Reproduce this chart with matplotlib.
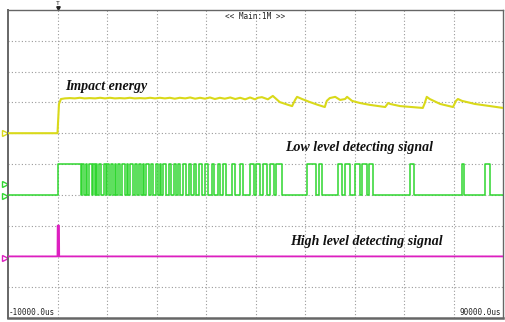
import numpy as np
import matplotlib
matplotlib.use("Agg")
from matplotlib import pyplot as plt

# time axis of the scope (us) and vertical scale in divisions
t_start, t_end = -10000, 90000

# impact energy trace (yellow): time in us, level in divisions
energy_t = [-10000, 0, 300, 700, 1500, 2500, 3500, 4500, 5500, 6500, 7600, 8600,
            9600, 10600, 11600, 12600, 13600, 14600, 15600, 16700, 17700, 18700,
            19700, 20700, 21700, 22700, 23700, 24700, 25800, 26800, 27800, 28800,
            29800, 30800, 31800, 32800, 33800, 34900, 35900, 36900, 37900, 38900,
            39900, 40500, 41300, 42500, 43500, 44900, 46600, 47400, 48000, 48400,
            49400, 51000, 52600, 54000, 54400, 55000, 56100, 57100, 58100, 58500,
            59500, 61100, 63100, 66200, 66800, 67200, 69200, 73800, 74200, 74600,
            75200, 77300, 79900, 80500, 80900, 81700, 84300, 87400, 90000]
energy_v = [6.0, 6.0, 6.95, 7.11, 7.13, 7.14, 7.13, 7.15, 7.13, 7.14, 7.13, 7.15,
            7.13, 7.15, 7.13, 7.14, 7.13, 7.15, 7.13, 7.14, 7.13, 7.15, 7.13, 7.15,
            7.13, 7.15, 7.12, 7.15, 7.13, 7.16, 7.12, 7.15, 7.12, 7.16, 7.11, 7.15,
            7.12, 7.16, 7.11, 7.15, 7.10, 7.16, 7.10, 7.15, 7.17, 7.10, 7.21, 7.01,
            6.92, 6.88, 7.08, 7.18, 7.11, 7.01, 6.92, 6.85, 7.05, 7.14, 7.18, 7.08,
            7.11, 7.18, 7.05, 6.98, 6.92, 6.85, 6.98, 6.95, 6.88, 6.82, 6.98, 7.18,
            7.11, 6.95, 6.85, 7.05, 7.11, 7.05, 6.95, 6.88, 6.82]

# low level detecting signal (green): start/end of each high pulse, us
low_on = [0, 4950, 5760, 6360, 7170, 7780, 8380, 9390, 10000, 10810, 11620,
          12220, 13030, 14040, 14650, 15660, 16460, 17270, 17880, 18890, 19900,
          20710, 21310, 22520, 23530, 24340, 25350, 26560, 27570, 28590, 29800,
          31210, 32420, 33430, 35250, 36870, 38890, 40100, 41510, 42930, 44140,
          50400, 52830, 56660, 58080, 60100, 61510, 62930, 71210, 81720, 86360]
low_off = [4750, 5350, 5960, 6970, 7580, 7980, 8790, 9800, 10400, 11210, 11820,
           12630, 13640, 14240, 15250, 16060, 16870, 17470, 18480, 19290, 20300,
           20910, 21920, 22930, 23940, 24750, 25960, 26970, 27980, 29190, 30400,
           31610, 32830, 34040, 35860, 37470, 39690, 40910, 42320, 43740, 45350,
           52220, 53430, 57470, 59090, 61110, 62520, 63740, 72020, 82120, 87370]
low_lo, low_hi = 4.0, 5.0

# high level detecting signal (magenta)
high_t = [-10000, 0, 40, 300, 340, 90000]
high_v = [2.0, 2.0, 3.0, 3.0, 2.0, 2.0]

yellow = "#d9d91a"
green = "#2fd62f"
magenta = "#dd1fc0"

fig = plt.figure(figsize=(5.05, 3.22), dpi=100)
ax = fig.add_axes([8 / 505, 4 / 322, 495 / 505, 308 / 322])
ax.set_xlim(t_start, t_end)
ax.set_ylim(0, 10)

# dotted scope graticule
for gx in np.arange(t_start, t_end + 1, 10000)[1:-1]:
    ax.axvline(gx, color="#9a9a9a", lw=0.8, ls=(0, (1, 2)), zorder=1)
for gy in range(1, 10):
    ax.axhline(gy, color="#9a9a9a", lw=0.8, ls=(0, (1, 2)), zorder=1)

ax.plot(energy_t, energy_v, color=yellow, lw=1.5, zorder=3)

# build the green step trace from the pulse edges
gt = [t_start]
gv = [low_lo]
for a, b in zip(low_on, low_off):
    gt += [a, a, b, b]
    gv += [low_lo, low_hi, low_hi, low_lo]
gt.append(t_end)
gv.append(low_lo)
ax.plot(gt, gv, color=green, lw=1.1, zorder=3)

ax.plot(high_t, high_v, color=magenta, lw=1.3, zorder=3)

# captions
cap = dict(family="Liberation Serif", weight="bold", style="italic",
           fontsize=10, color="#111111", va="center", zorder=4)
ax.text(1500, 7.53, "Impact energy", **cap)
ax.text(46000, 5.52, "Low level detecting signal", **cap)
ax.text(47000, 2.5, "High level detecting signal", **cap)

mono = dict(family="DejaVu Sans Mono", fontsize=5.5, color="#222222")
ax.text(40000, 9.8, "<< Main:1M >>", ha="center", va="center", **mono)
ax.text(-9800, 0.18, "-10000.0us", ha="left", va="center", **mono)
ax.text(89600, 0.18, "90000.0us", ha="right", va="center", **mono)

# level markers at the left edge and the trigger marker at the top
ax.plot([-10700], [6.0], marker=">", ms=4, mfc="none", mec=yellow, clip_on=False)
ax.plot([-10700], [4.35], marker=">", ms=4, mfc="none", mec=green, clip_on=False)
ax.plot([-10700], [3.95], marker=">", ms=4, mfc="none", mec=green, clip_on=False)
ax.plot([-10700], [1.95], marker=">", ms=4, mfc="none", mec=magenta, clip_on=False)
ax.text(0, 10.15, "T", ha="center", va="baseline", fontsize=4.5,
        family="DejaVu Sans Mono", color="#222222", clip_on=False)
ax.plot([200], [10.05], marker="v", ms=2.5, color="#222222", clip_on=False)

ax.set_xticks([])
ax.set_yticks([])
for side in ["left", "right", "top", "bottom"]:
    ax.spines[side].set_color("#666666")
    ax.spines[side].set_linewidth(1.0)
ax.spines["bottom"].set_linewidth(1.8)
ax.spines["left"].set_linewidth(1.4)

fig.savefig("out.png", dpi=100)
